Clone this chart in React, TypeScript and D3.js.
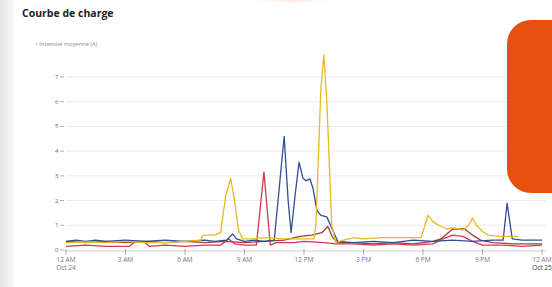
import React from "react";
import * as d3 from "d3";

const W = 552;
const H = 287;

const yTicks = [0, 1, 2, 3, 4, 5, 6, 7];
const xTickHours = [0, 3, 6, 9, 12, 15, 18, 21, 24];
const xTickLabels = ["12 AM", "3 AM", "6 AM", "9 AM", "12 PM", "3 PM", "6 PM", "9 PM", "12 AM"];
const xTickSub = ["Oct 24", "", "", "", "", "", "", "", "Oct 25"];

// [hour, value]
const yellowSeries: [number, number][] = [
  [0, 0.3], [1, 0.32], [2, 0.3], [3, 0.35], [4, 0.3], [5, 0.3], [6, 0.35], [6.8, 0.4], [6.9, 0.6],
  [7.5, 0.6], [7.8, 0.7], [8.05, 2.2], [8.3, 2.9], [8.5, 2.0], [8.7, 0.8], [8.9, 0.45], [9.5, 0.45],
  [10, 0.5], [11, 0.45], [12, 0.45], [12.5, 0.45], [12.6, 1.0], [12.85, 6.5], [13.0, 7.9], [13.15, 6.0],
  [13.4, 1.0], [13.6, 0.3], [14, 0.4], [14.5, 0.5], [15, 0.45], [16, 0.5], [17, 0.5], [17.9, 0.5],
  [18.1, 1.0], [18.25, 1.4], [18.5, 1.15], [18.8, 1.0], [19.2, 0.85], [19.5, 0.9], [19.8, 0.85],
  [20.0, 0.8], [20.3, 1.0], [20.5, 1.3], [20.7, 1.0], [21, 0.75], [21.3, 0.6], [21.8, 0.55],
  [22.3, 0.55], [22.8, 0.55],
];

const blueSeries: [number, number][] = [
  [0, 0.35], [0.5, 0.4], [1, 0.35], [1.5, 0.4], [2, 0.35], [3, 0.4], [4, 0.35], [5, 0.4], [6, 0.35],
  [7, 0.4], [7.5, 0.35], [8.1, 0.4], [8.4, 0.65], [8.6, 0.45], [9, 0.35], [9.5, 0.4], [10, 0.35],
  [10.5, 0.4], [10.75, 2.5], [11.0, 4.6], [11.2, 2.0], [11.35, 0.7], [11.55, 2.2], [11.75, 3.55],
  [11.95, 2.9], [12.1, 2.8], [12.3, 2.88], [12.45, 2.5], [12.65, 1.6], [12.85, 1.4], [13.15, 1.34],
  [13.45, 0.8], [13.7, 0.35], [14.5, 0.3], [15.5, 0.35], [16.5, 0.3], [17.5, 0.4], [18.5, 0.35],
  [19.5, 0.4], [20.5, 0.35], [21.5, 0.4], [22.04, 0.4], [22.24, 1.9], [22.5, 0.45], [23, 0.4], [24, 0.4],
];

const redSeries: [number, number][] = [
  [0, 0.15], [1, 0.2], [2, 0.15], [3.2, 0.15], [3.5, 0.35], [3.9, 0.35], [4.2, 0.15], [5, 0.2],
  [6, 0.15], [7, 0.2], [7.8, 0.2], [8.2, 0.45], [8.5, 0.25], [9, 0.2], [9.6, 0.2], [9.98, 3.15],
  [10.3, 0.2], [10.6, 0.3], [11.5, 0.3], [12, 0.35], [13, 0.3], [13.6, 0.25], [14.5, 0.25],
  [15.5, 0.2], [16.5, 0.25], [17.5, 0.2], [18.5, 0.25], [19.0, 0.45], [19.5, 0.6], [20.0, 0.55],
  [20.5, 0.35], [21, 0.2], [22, 0.2], [23, 0.15], [24, 0.2],
];

const maroonSeries: [number, number][] = [
  [0, 0.35], [1, 0.3], [2, 0.35], [3, 0.3], [4, 0.35], [5, 0.3], [6, 0.35], [7, 0.3], [8, 0.35],
  [9, 0.3], [10, 0.35], [11, 0.4], [11.8, 0.55], [12.4, 0.6], [12.9, 0.7], [13.2, 0.95], [13.45, 0.5],
  [13.7, 0.3], [14.5, 0.3], [15.5, 0.25], [16.5, 0.3], [17.5, 0.25], [18.5, 0.35], [18.9, 0.45],
  [19.5, 0.85], [20.1, 0.85], [20.5, 0.6], [20.9, 0.4], [21.5, 0.3], [22.5, 0.25], [23.5, 0.25], [24, 0.25],
];

const seriesList = [
  { name: "maroon", data: maroonSeries, color: "#9a3d3d" },
  { name: "red", data: redSeries, color: "#d8354f" },
  { name: "blue", data: blueSeries, color: "#2f4f99" },
  { name: "yellow", data: yellowSeries, color: "#e8b923" },
];

export default function App() {
  const x = d3.scaleLinear().domain([0, 24]).range([66, 542]);
  const y = d3.scaleLinear().domain([0, 7]).range([250, 77]);
  const line = d3
    .line<[number, number]>()
    .x((d) => x(d[0]))
    .y((d) => y(d[1]));

  return (
    <svg
      width={W}
      height={H}
      style={{ position: "absolute", left: 0, top: 0, background: "#fff" }}
      fontFamily="'Open Sans', 'Noto Sans', sans-serif"
    >
      <defs>
        <linearGradient id="leftShade" x1="0" x2="1" y1="0" y2="0">
          <stop offset="0" stopColor="#e6e6e6" />
          <stop offset="1" stopColor="#f7f7f7" />
        </linearGradient>
        <linearGradient id="topGlow" x1="0" x2="1">
          <stop offset="0" stopColor="#fbd5c0" stopOpacity="0" />
          <stop offset="0.5" stopColor="#f9c8ae" stopOpacity="0.4" />
          <stop offset="1" stopColor="#fbd5c0" stopOpacity="0" />
        </linearGradient>
      </defs>
      <rect x={0} y={0} width={13} height={H} fill="url(#leftShade)" />
      <rect x={255} y={0} width={75} height={2} fill="url(#topGlow)" />

      <text x={22} y={17} fontSize={10.5} fontWeight={700} fill="#222">
        Courbe de charge
      </text>
      <text x={35} y={46} fontSize={5.7} fill="#888">
        ↑ Intensité moyenne (A)
      </text>

      {yTicks.map((t) => (
        <g key={t}>
          {t > 0 && (
            <line x1={66} x2={546} y1={y(t)} y2={y(t)} stroke="#ececec" strokeWidth={1} />
          )}
          <line x1={60} x2={64} y1={y(t)} y2={y(t)} stroke="#999" strokeWidth={0.8} />
          <text x={58.5} y={y(t) + 2} fontSize={6} textAnchor="end" fill="#666">
            {t}
          </text>
        </g>
      ))}

      <line x1={64} x2={546} y1={251} y2={251} stroke="#c9c9d6" strokeWidth={1} />
      {xTickHours.map((h, i) => (
        <g key={h}>
          <line x1={x(h)} x2={x(h)} y1={249} y2={255} stroke="#999" strokeWidth={0.8} />
          <text x={x(h)} y={262} fontSize={6.5} textAnchor="middle" fill="#777">
            {xTickLabels[i]}
          </text>
          {xTickSub[i] && (
            <text
              x={x(h)}
              y={270}
              fontSize={6.5}
              textAnchor="middle"
              fill={i === 0 ? "#777" : "#333"}
            >
              {xTickSub[i]}
            </text>
          )}
        </g>
      ))}

      {seriesList.map((s) => (
        <path
          key={s.name}
          d={line(s.data) || ""}
          fill="none"
          stroke={s.color}
          strokeWidth={1.3}
          strokeLinejoin="round"
        />
      ))}

      <rect x={507} y={20} width={80} height={173} rx={24} fill="#e6500f" />
    </svg>
  );
}
